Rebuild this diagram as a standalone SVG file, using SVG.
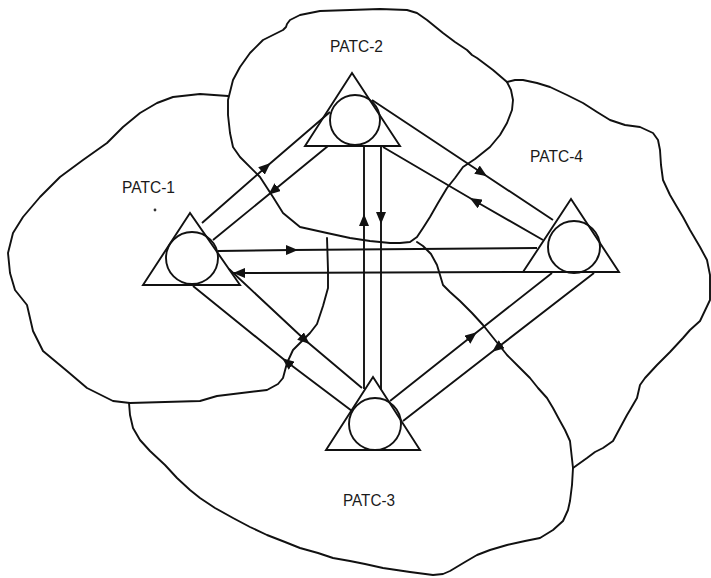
<svg xmlns="http://www.w3.org/2000/svg" width="711" height="578" viewBox="0 0 711 578">
<defs>
<style>
.blob{fill:none;stroke:#111;stroke-width:1.9;stroke-linejoin:round;stroke-linecap:round}
.node{fill:none;stroke:#111;stroke-width:1.9}
.conn{fill:none;stroke:#111;stroke-width:1.9;marker-mid:url(#arr)}
.lbl{font-family:"Liberation Sans",Arial,sans-serif;font-size:16px;fill:#1a1a1a}
</style>
<marker id="arr" viewBox="0 0 12 10" markerWidth="12" markerHeight="10" refX="6" refY="5" orient="auto" markerUnits="userSpaceOnUse">
<path d="M0,0 L12,5 L0,10 z" fill="#111"/>
</marker>
</defs>
<rect width="711" height="578" fill="#fff"/>

<g id="regions">
<path id="region-2" class="blob" d="M290,20 L300,15 L320,11 L350,10 L380,9 L407,10 L417,13 L427,20 L443,33 L455,42 L467,50 L472,55 L477,58 L493,70 L507,82 L511,90 L513,100 L512,110 L507,123 L500,135 L490,147 L475,159 L463,167 L455,178 L447,188 L438,203 L430,217 L423,228 L417,237 L410,242 L400,243 L390,243 L370,241 L350,238 L327,233 L300,227 L283,213 L273,197 L260,177 L240,157 L233,147 L230,133 L228,115 L228,100 L233,80 L240,67 L250,53 L263,40 L275,34 L283,30 L286,27 L287,24 Z"/>
<path id="region-1" class="blob" d="M228,96 L200,94 L173,97 L157,103 L140,113 L123,127 L107,143 L83,160 L60,177 L40,197 L23,217 L13,233 L8,253 L10,273 L15,290 L27,305 L33,331 L43,351 L67,371 L87,388 L113,401 L130,403 L200,401 L217,396 L267,390 L278,384 L283,378 L287,363 L293,350 L300,343 L310,333 L317,324 L323,306 L328,288 L328,270 L327,238"/>
<path id="region-3" class="blob" d="M129,403 L130,415 L133,428 L140,440 L150,451 L165,465 L177,478 L190,490 L200,498 L215,508 L233,518 L250,527 L267,535 L285,542 L300,548 L318,553 L333,558 L350,561 L365,564 L383,568 L410,572 L433,575 L443,574 L450,571 L465,562 L477,555 L490,550 L507,545 L525,541 L540,538 L553,530 L563,521 L568,510 L570,501 L572,485 L573,468 L571,450 L570,441 L565,430 L560,421 L553,408 L547,398 L538,388 L530,378 L518,366 L507,355 L495,340 L483,325 L472,313 L460,301 L450,292 L443,285 L440,275 L437,265 L431,254 L423,246 L417,242"/>
<path id="region-4" class="blob" d="M507,82 L515,80 L523,80 L537,83 L550,87 L567,95 L583,103 L597,112 L610,120 L625,125 L640,127 L653,133 L658,140 L660,150 L661,165 L663,180 L670,195 L677,207 L683,217 L690,230 L700,247 L707,260 L710,275 L710,300 L700,321 L690,330 L683,338 L670,352 L657,365 L645,378 L640,385 L637,398 L630,410 L627,415 L620,428 L613,441 L603,448 L595,452 L587,458 L573,468"/>
<circle cx="155" cy="210" r="1.4" fill="#333"/>
</g>

<g id="connectors">
<path class="conn" d="M202,223 L266,167 L330,112"/>
<path class="conn" d="M328,146 L273,191 L213,240"/>
<path class="conn" d="M372,100 L482,173 L553,220"/>
<path class="conn" d="M543,240 L475,201 L383,147"/>
<path class="conn" d="M218,251 L292,250 L537,248"/>
<path class="conn" d="M523,272 L239,273 L232,273"/>
<path class="conn" d="M364,389 L364,220 L364,146"/>
<path class="conn" d="M381,146 L381,218 L381,390"/>
<path class="conn" d="M229,269 L305,340 L362,388"/>
<path class="conn" d="M352,411 L287,362 L193,286"/>
<path class="conn" d="M390,401 L472,336 L552,273"/>
<path class="conn" d="M594,273 L497,348 L403,421"/>
</g>

<g id="node-1">
<polygon class="node" points="190,213 143,285 240,285"/>
<circle class="node" cx="192" cy="258" r="26"/>
</g>
<g id="node-2">
<polygon class="node" points="352,73 305,146 400,146"/>
<circle class="node" cx="355" cy="120" r="25"/>
</g>
<g id="node-3">
<polygon class="node" points="373,377 326,450 420,450"/>
<circle class="node" cx="375" cy="424" r="26"/>
</g>
<g id="node-4">
<polygon class="node" points="571,199 523,272 619,272"/>
<circle class="node" cx="574" cy="247" r="26"/>
</g>

<g id="labels">
<text class="lbl" x="330" y="52" textLength="53" lengthAdjust="spacingAndGlyphs">PATC-2</text>
<text class="lbl" x="122" y="193" textLength="53" lengthAdjust="spacingAndGlyphs">PATC-1</text>
<text class="lbl" x="530" y="162" textLength="53" lengthAdjust="spacingAndGlyphs">PATC-4</text>
<text class="lbl" x="343" y="506" textLength="52" lengthAdjust="spacingAndGlyphs">PATC-3</text>
</g>
</svg>
